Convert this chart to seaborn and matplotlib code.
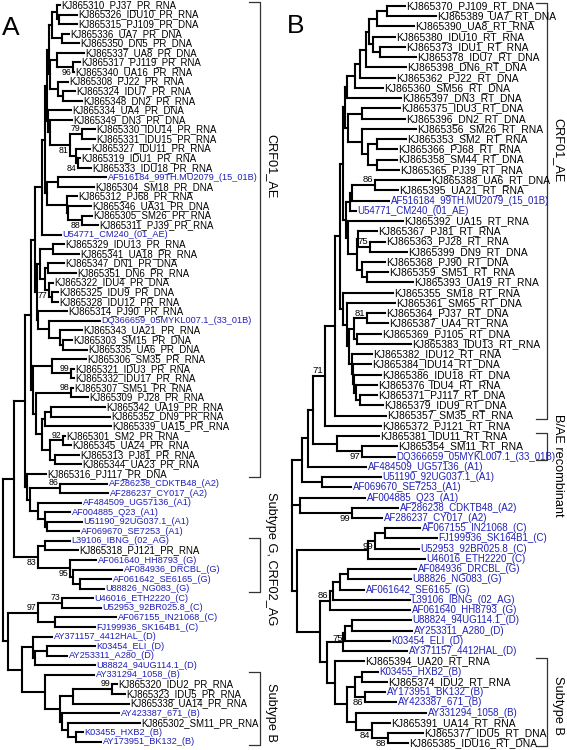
"""
plot.py - two rooted phylogenetic trees (PR and RT regions) drawn side by side.

Trees are kept as Newick strings whose leaves are 1-based indices into the
name lists; internal labels are bootstrap values (suffix u/d = text above or
below the node).
"""
import matplotlib
matplotlib.use("Agg")  # headless
import matplotlib.pyplot as plt
import pandas as pd
import seaborn as sns

# ---------------------------------------------------------------- data
a_names = [
    "KJ865310_PJ37_PR_RNA", "KJ865326_IDU10_PR_RNA", "KJ865315_PJ109_PR_DNA",
    "KJ865336_UA7_PR_DNA", "KJ865350_DN5_PR_DNA", "KJ865337_UA8_PR_DNA",
    "KJ865317_PJ119_PR_RNA", "KJ865340_UA16_PR_RNA", "KJ865308_PJ22_PR_RNA",
    "KJ865324_IDU7_PR_RNA", "KJ865348_DN2_PR_RNA", "KJ865334_UA4_PR_DNA",
    "KJ865349_DN3_PR_DNA", "KJ865330_IDU14_PR_RNA", "KJ865331_IDU15_PR_RNA",
    "KJ865327_IDU11_PR_RNA", "KJ865319_IDU1_PR_RNA", "KJ865333_IDU18_PR_RNA",
    "AF516184_99TH.MU2079_(15_01B)", "KJ865304_SM18_PR_DNA", "KJ865312_PJ68_PR_RNA",
    "KJ865346_UA31_PR_DNA", "KJ865305_SM26_PR_RNA", "KJ865311_PJ39_PR_RNA",
    "U54771_CM240_(01_AE)", "KJ865329_IDU13_PR_RNA", "KJ865341_UA18_PR_RNA",
    "KJ865347_DN1_PR_DNA", "KJ865351_DN6_PR_RNA", "KJ865322_IDU4_PR_DNA",
    "KJ865325_IDU9_PR_DNA", "KJ865328_IDU12_PR_RNA", "KJ865314_PJ90_PR_RNA",
    "DQ366659_05MYKL007.1_(33_01B)", "KJ865343_UA21_PR_RNA", "KJ865303_SM15_PR_DNA",
    "KJ865335_UA6_PR_DNA", "KJ865306_SM35_PR_RNA", "KJ865321_IDU3_PR_RNA",
    "KJ865332_IDU17_PR_RNA", "KJ865307_SM51_PR_RNA", "KJ865309_PJ28_PR_RNA",
    "KJ865342_UA19_PR_RNA", "KJ865352_DN9_PR_RNA", "KJ865339_UA15_PR_RNA",
    "KJ865301_SM2_PR_RNA", "KJ865345_UA24_PR_RNA", "KJ865313_PJ81_PR_RNA",
    "KJ865344_UA23_PR_RNA", "KJ865316_PJ117_PR_DNA", "AF286238_CDKTB48_(A2)",
    "AF286237_CY017_(A2)", "AF484509_UG57136_(A1)", "AF004885_Q23_(A1)",
    "U51190_92UG037.1_(A1)", "AF069670_SE7253_(A1)", "L39106_IBNG_(02_AG)",
    "KJ865318_PJ121_PR_RNA", "AF061640_HH8793_(G)", "AF084936_DRCBL_(G)",
    "AF061642_SE6165_(G)", "U88826_NG083_(G)", "U46016_ETH2220_(C)",
    "U52953_92BR025.8_(C)", "AF067155_IN21068_(C)", "FJ199936_SK164B1_(C)",
    "AY371157_4412HAL_(D)", "K03454_ELI_(D)", "AY253311_A280_(D)",
    "U88824_94UG114.1_(D)", "AY331294_1058_(B)", "KJ865320_IDU2_PR_RNA",
    "KJ865323_IDU5_PR_RNA", "KJ865338_UA14_PR_RNA", "AY423387_671_(B)",
    "KJ865302_SM11_PR_RNA", "K03455_HXB2_(B)", "AY173951_BK132_(B)",
]

b_names = [
    "KJ865370_PJ109_RT_DNA", "KJ865389_UA7_RT_DNA", "KJ865390_UA8_RT_RNA",
    "KJ865380_IDU10_RT_RNA", "KJ865373_IDU1_RT_RNA", "KJ865378_IDU7_RT_DNA",
    "KJ865398_DN6_RT_DNA", "KJ865362_PJ22_RT_DNA", "KJ865360_SM56_RT_DNA",
    "KJ865397_DN3_RT_DNA", "KJ865375_IDU3_RT_DNA", "KJ865396_DN2_RT_DNA",
    "KJ865356_SM26_RT_RNA", "KJ865353_SM2_RT_RNA", "KJ865366_PJ68_RT_RNA",
    "KJ865358_SM44_RT_DNA", "KJ865365_PJ39_RT_RNA", "KJ865388_UA6_RT_DNA",
    "KJ865395_UA21_RT_RNA", "AF516184_99TH.MU2079_(15_01B)", "U54771_CM240_(01_AE)",
    "KJ865392_UA15_RT_RNA", "KJ865367_PJ81_RT_RNA", "KJ865363_PJ28_RT_RNA",
    "KJ865399_DN9_RT_DNA", "KJ865368_PJ90_RT_DNA", "KJ865359_SM51_RT_RNA",
    "KJ865393_UA19_RT_RNA", "KJ865355_SM18_RT_RNA", "KJ865361_SM65_RT_DNA",
    "KJ865364_PJ37_RT_DNA", "KJ865387_UA4_RT_RNA", "KJ865369_PJ105_RT_DNA",
    "KJ865383_IDU13_RT_RNA", "KJ865382_IDU12_RT_RNA", "KJ865384_IDU14_RT_DNA",
    "KJ865386_IDU18_RT_DNA", "KJ865376_IDU4_RT_RNA", "KJ865371_PJ117_RT_DNA",
    "KJ865379_IDU9_RT_DNA", "KJ865357_SM35_RT_RNA", "KJ865372_PJ121_RT_RNA",
    "KJ865381_IDU11_RT_RNA", "KJ865354_SM11_RT_RNA", "DQ366659_05MYKL007.1_(33_01B)",
    "AF484509_UG57136_(A1)", "U51190_92UG037.1_(A1)", "AF069670_SE7253_(A1)",
    "AF004885_Q23_(A1)", "AF286238_CDKTB48_(A2)", "AF286237_CY017_(A2)",
    "AF067155_IN21068_(C)", "FJ199936_SK164B1_(C)", "U52953_92BR025.8_(C)",
    "U46016_ETH2220_(C)", "AF084936_DRCBL_(G)", "U88826_NG083_(G)",
    "AF061642_SE6165_(G)", "L39106_IBNG_(02_AG)", "AF061640_HH8793_(G)",
    "U88824_94UG114.1_(D)", "AY253311_A280_(D)", "K03454_ELI_(D)",
    "AY371157_4412HAL_(D)", "KJ865394_UA20_RT_RNA", "K03455_HXB2_(B)",
    "KJ865374_IDU2_RT_RNA", "AY173951_BK132_(B)", "AY423387_671_(B)",
    "AY331294_1058_(B)", "KJ865391_UA14_RT_RNA", "KJ865377_IDU5_RT_DNA",
    "KJ865385_IDU16_RT_DNA",
]

a_newick = (
    "("
    " ("
    "  ("
    "   ("
    "    ("
    "     ("
    "      ("
    "       ("
    "        (((1:0.03,(2:0.18,3:0.18):0.02):0.05,(4:0.07,5:0.17):0.10):0.03,((6:0.27,(7:0.07,8:0.01)96d:0.16):0.07,(9:0.10,(10:0.12,11:0.19):0.05):0.08):0.01):0.02,"
    "        (12:0.23,(13:0.22,((14:0.13,15:0.13)79u:0.12,(16:0.14,(17:0.02,18:0.13)84d:0.02):0.06)81d:0.20):0.02):0.01"
    "       ):0.02,"
    "       ((19:0.48,20:0.36):0.11,(21:0.10,(22:0.23,(23:0.10,24:0.16)88d:0.14):0.01):0.20):0.02"
    "      ):0.03,"
    "      25:0.19"
    "     ):0.07,"
    "     (((26:0.11,27:0.26):0.13,((28:0.16,29:0.28):0.03,(30:0.04,(31:0.06,32:0.06):0.03)77d:0.04):0.05):0.03,"
    "      (33:0.29,(34:0.51,(35:0.22,(36:0.09,37:0.24):0.03):0.11):0.11):0.01):0.02"
    "    ):0.04,"
    "    ((38:0.34,(39:0.03,40:0.03)99u:0.19):0.19,"
    "     ((41:0.02,42:0.17)98u:0.35,(((43:0.54,44:0.59):0.06,45:0.66):0.03,((46:0.02,47:0.08)92u:0.13,(48:0.24,49:0.26):0.05):0.08):0.06):0.03):0.02"
    "   ):0.06,"
    "   (50:0.19,((51:0.47,52:0.48)86u:0.30,(53:0.43,(54:0.25,(55:0.35,56:0.32):0.02):0.07):0.08):0.03):0.02"
    "  ):0.11,"
    "  ((57:0.25,58:0.33):0.07,(59:0.26,(60:0.49,(61:0.31,62:0.24):0.07):0.03)95d:0.32)83d:0.24"
    " ):0.11,"
    " (((63:0.31,64:0.39)73u:0.24,(65:0.61,66:0.40):0.17)97u:0.30,"
    "  ((67:0.19,((68:0.48,69:0.20):0.12,70:0.60):0.02):0.11,"
    "   (71:0.49,(((72:0.05,73:0.13)99u:0.39,74:0.56):0.13,(75:0.57,(76:0.72,(77:0.07,78:0.25):0.08):0.06):0.02):0.15):0.23):0.14"
    " ):0.05"
    ");"
)

b_newick = (
    "("
    " ("
    "  ("
    "   ("
    "    ("
    "     ("
    "      ("
    "       ("
    "        ("
    "         (((((((1:0.18,2:0.49):0.10,3:0.37):0.08,(4:0.22,(5:0.25,6:0.36):0.07):0.04):0.03,7:0.40):0.06,8:0.35):0.05,9:0.28):0.08,10:0.54):0.02,"
    "         ((11:0.38,12:0.43):0.14,(13:0.54,((14:0.29,15:0.20):0.09,(16:0.20,17:0.22):0.09):0.06):0.14):0.03"
    "        ):0.02,"
    "        ((((18:0.55,19:0.23)86u:0.23,20:0.37):0.02,21:0.06):0.04,"
    "         (22:0.55,((23:0.19,(24:0.15,25:0.37)75u:0.12):0.01,(26:0.23,(27:0.21,28:0.46):0.05):0.05):0.09):0.02):0.03"
    "       ):0.03,"
    "       (29:0.50,(30:0.48,(((31:0.18,32:0.21)81u:0.13,(33:0.24,34:0.54):0.03):0.05,(35:0.20,(36:0.18,(37:0.27,(38:0.21,(39:0.17,40:0.23):0.04):0.02):0.01):0.01):0.03):0.02):0.04):0.03"
    "      ):0.05,"
    "      41:0.51"
    "     ):0.10,"
    "     42:0.56"
    "    )71u:0.12,"
    "    (43:0.42,(44:0.35,45:0.33)97d:0.25):0.24"
    "   ):0.05,"
    "   46:0.58"
    "  ):0.06,"
    "  (47:0.59,48:0.29):0.20"
    " ):0.10,"
    " (49:0.65,(50:0.46,51:0.30)99d:0.52):0.08,"
    " ((((52:0.35,53:0.52):0.10,54:0.44)99d:0.07,55:0.57):0.71,"
    "  (((((56:0.68,57:0.63):0.08,58:0.24):0.07,59:0.77):0.03,60:0.80)86u:0.10,"
    "   ((((61:0.59,62:0.60):0.07,63:0.45)75d:0.02,64:0.64):0.16,"
    "    (65:0.29,(((66:0.16,67:0.25):0.07,(68:0.20,69:0.31)86d:0.10):0.08,(70:0.70,(71:0.18,(72:0.35,73:0.20)88d:0.16)84d:0.16):0.09):0.12):0.08):0.07):0.23"
    " ):0.05"
    ");"
)

# clade brackets: text, first leaf, last leaf (1-based, in drawing order)
a_clades = ["CRF01_AE", "Subtype G, CRF02_AG", "Subtype B"]
a_clade_first = [1, 57, 71]
a_clade_last = [50, 62, 78]
b_clades = ["CRF01_AE", "B/AE recombinant", "Subtype B"]
b_clade_first = [1, 43, 65]
b_clade_last = [41, 45, 73]

# ---------------------------------------------------------------- layout
W, H = 567, 750
REF_BLUE = "#2020b8"
FONT = "Liberation Sans"
PX_PER_UNIT = 100.0
REF_SHRINK = 0.95  # reference-strain names are set a touch narrower

PANELS = {
    # root x, first leaf y, leaf spacing, leaf font, bracket x, clade label y
    "A": dict(x0=3, y0=5.0, dy=9.57, fs=6.9, bx=260, ly=[166, 559, 712], letter=(2, 28)),
    "B": dict(x0=292, y0=6.0, dy=10.24, fs=7.4, bx=547, ly=[150, 465, 705], letter=(287, 26)),
}


def parse_newick(text):
    s = "".join(text.split()).rstrip(";")
    pos = 0

    def node():
        nonlocal pos
        children = []
        if s[pos] == "(":
            pos += 1
            while True:
                children.append(node())
                ch = s[pos]
                pos += 1
                if ch == ")":
                    break
        start = pos
        while pos < len(s) and s[pos] not in ",():":
            pos += 1
        label = s[start:pos]
        length = 0.0
        if pos < len(s) and s[pos] == ":":
            pos += 1
            start = pos
            while pos < len(s) and s[pos] not in ",()":
                pos += 1
            length = float(s[start:pos])
        return {"label": label, "length": length, "children": children}

    return node()


def tree_layout(newick, names, x0, y0, dy):
    """Rectangular cladogram: returns segment table, tip table and bootstrap list."""
    tree = parse_newick(newick)
    segs, tips, boots = [], [], []

    def walk(nd, px):
        x = px + nd["length"] * PX_PER_UNIT
        if not nd["children"]:
            y = y0 + len(tips) * dy
            tips.append((names[int(nd["label"]) - 1], x, y))
            segs.append((px, y, x, y))
            return y
        ys = [walk(c, x) for c in nd["children"]]
        y = (ys[0] + ys[-1]) / 2
        segs.append((x, ys[0], x, ys[-1]))
        if x > px:
            segs.append((px, y, x, y))
        if nd["label"]:
            boots.append((nd["label"], x, y))
        return y

    walk(tree, x0)
    rows = []
    for i, (xa, ya, xb, yb) in enumerate(segs):
        rows.append({"seg": i, "x": xa, "y": ya})
        rows.append({"seg": i, "x": xb, "y": yb})
    return pd.DataFrame(rows), tips, boots


fig = plt.figure(figsize=(W / 100, H / 100), dpi=100)
ax = fig.add_axes([0, 0, 1, 1])

for key, newick, names, clades, first, last in [
    ("A", a_newick, a_names, a_clades, a_clade_first, a_clade_last),
    ("B", b_newick, b_names, b_clades, b_clade_first, b_clade_last),
]:
    p = PANELS[key]
    seg_df, tips, boots = tree_layout(newick, names, p["x0"], p["y0"], p["dy"])
    sns.lineplot(data=seg_df, x="x", y="y", units="seg", estimator=None, sort=False,
                 color="black", lw=1.5, legend=False, ax=ax)

    for name, x, y in tips:
        if name.startswith("KJ"):
            color, fs = "black", p["fs"]
        else:
            color, fs = REF_BLUE, p["fs"] * REF_SHRINK
        ax.text(x + 1.5, y, name, fontsize=fs, family=FONT, color=color,
                ha="left", va="center")

    for lab, x, y in boots:
        val = lab.rstrip("ud")
        if lab.endswith("u"):
            ax.text(x - 1.5, y - 0.8, val, fontsize=p["fs"] - 0.6, family=FONT,
                    ha="right", va="bottom")
        else:
            ax.text(x - 1.5, y + 1.0, val, fontsize=p["fs"] - 0.6, family=FONT,
                    ha="right", va="top")

    # clade brackets on the right
    leaf_y = [t[2] for t in tips]
    for text, f, l, ly in zip(clades, first, last, p["ly"]):
        top, bot = leaf_y[f - 1] - 3, leaf_y[l - 1] + 3
        bx = p["bx"]
        ax.plot([bx - 11, bx, bx, bx - 11], [top, top, bot, bot],
                color="#333333", lw=0.9)
        ax.text(bx + 11, ly, text, fontsize=9.2, family=FONT, rotation=270,
                ha="center", va="center")

    lx, lyy = p["letter"]
    ax.text(lx, lyy, key, fontsize=19, family=FONT, ha="left", va="center")

ax.set_xlim(0, W)
ax.set_ylim(H, 0)
ax.set_axis_off()
fig.savefig("out.png", dpi=100)
plt.close(fig)
